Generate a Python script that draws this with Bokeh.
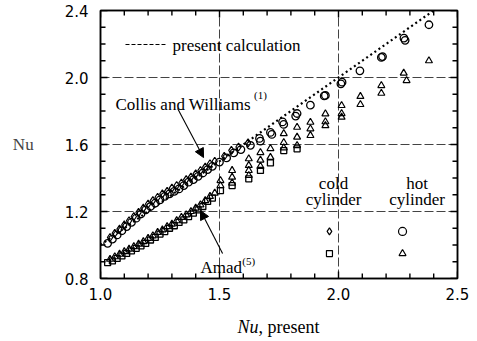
from bokeh.plotting import figure
from bokeh.layouts import column
from bokeh.models import (FixedTicker, PrintfTickFormatter, LinearAxis, Label, Arrow,
                          NormalHead, CustomJSTickFormatter, Range1d)
from bokeh.embed import file_html
from bokeh.resources import INLINE

# ---------------- data ----------------
x_ticks = [1.0, 1.5, 2.0, 2.5]
x_minor = [1.1, 1.2, 1.3, 1.4, 1.6, 1.7, 1.8, 1.9, 2.1, 2.2, 2.3, 2.4]
y_ticks = [0.8, 1.2, 1.6, 2.0, 2.4]
y_minor = [0.9, 1.0, 1.1, 1.3, 1.4, 1.5, 1.7, 1.8, 1.9, 2.1, 2.2, 2.3]

calc_x = [1.0, 2.4]
calc_y = [1.0, 2.4]

# Collis and Williams, hot cylinder (circles)
circle_x = [1.03, 1.05, 1.07, 1.09, 1.11, 1.13, 1.15, 1.17, 1.19, 1.21, 1.23, 1.25,
            1.27, 1.29, 1.31, 1.33, 1.35, 1.37, 1.39, 1.41, 1.43, 1.45, 1.47,
            1.50, 1.53, 1.56, 1.59, 1.63, 1.668, 1.672, 1.714, 1.72, 1.77, 1.765,
            1.826, 1.82, 1.882, 1.945, 1.94, 2.015, 2.01, 2.09, 2.18, 2.185, 2.28,
            2.275, 2.38]
circle_y = [1.01, 1.035, 1.06, 1.085, 1.11, 1.135, 1.16, 1.185, 1.21, 1.23, 1.25, 1.27,
            1.29, 1.305, 1.32, 1.335, 1.355, 1.375, 1.39, 1.41, 1.43, 1.45, 1.47,
            1.495, 1.52, 1.55, 1.57, 1.595, 1.636, 1.62, 1.672, 1.66, 1.72, 1.735,
            1.785, 1.77, 1.835, 1.893, 1.89, 1.972, 1.962, 2.04, 2.12, 2.125, 2.222,
            2.235, 2.315]

# Collis and Williams, cold cylinder (diamonds)
diamond_x = [1.04, 1.06, 1.08, 1.10, 1.12, 1.14, 1.16, 1.18, 1.20, 1.22, 1.24, 1.26,
             1.28, 1.30, 1.32, 1.34, 1.36, 1.38, 1.40, 1.42, 1.44, 1.46, 1.48,
             1.52, 1.55, 1.58, 1.62]
diamond_y = [1.045, 1.07, 1.095, 1.12, 1.145, 1.17, 1.195, 1.22, 1.245, 1.265, 1.285, 1.305,
             1.32, 1.34, 1.355, 1.37, 1.39, 1.405, 1.425, 1.445, 1.465, 1.485, 1.50,
             1.53, 1.565, 1.585, 1.61]

# Amad, cold cylinder (squares)
square_x = [1.03, 1.05, 1.07, 1.09, 1.11, 1.13, 1.15, 1.17, 1.19, 1.21, 1.23, 1.25,
            1.27, 1.29, 1.31, 1.33, 1.35, 1.37, 1.39, 1.41, 1.43, 1.45, 1.47,
            1.504, 1.553, 1.623, 1.672, 1.714, 1.77, 1.826]
square_y = [0.895, 0.905, 0.92, 0.935, 0.95, 0.965, 0.98, 0.995, 1.01, 1.03, 1.045, 1.065,
            1.08, 1.10, 1.115, 1.135, 1.15, 1.17, 1.19, 1.21, 1.23, 1.26, 1.28,
            1.325, 1.355, 1.395, 1.445, 1.49, 1.564, 1.574]

# Amad, hot cylinder (triangles)
triangle_x = [1.04, 1.06, 1.08, 1.10, 1.12, 1.14, 1.16, 1.18, 1.20, 1.22, 1.24, 1.26,
              1.28, 1.30, 1.32, 1.34, 1.36, 1.38, 1.40, 1.42, 1.44, 1.46, 1.48,
              1.504, 1.504, 1.553, 1.553, 1.553, 1.623, 1.623, 1.623, 1.623,
              1.672, 1.672, 1.672, 1.714, 1.714, 1.77, 1.77, 1.77, 1.826, 1.826, 1.826,
              1.882, 1.882, 1.882, 1.945, 1.945, 1.945, 2.013, 2.013, 2.013,
              2.092, 2.092, 2.18, 2.18, 2.286, 2.274, 2.38]
triangle_y = [0.915, 0.93, 0.945, 0.96, 0.975, 0.99, 1.005, 1.02, 1.04, 1.055, 1.075, 1.09,
              1.11, 1.125, 1.145, 1.165, 1.18, 1.20, 1.22, 1.24, 1.265, 1.29, 1.31,
              1.355, 1.385, 1.37, 1.405, 1.445, 1.415, 1.445, 1.475, 1.515,
              1.47, 1.507, 1.552, 1.523, 1.576, 1.58, 1.612, 1.665, 1.594, 1.644, 1.703,
              1.654, 1.694, 1.733, 1.713, 1.736, 1.783, 1.763, 1.785, 1.833,
              1.839, 1.887, 1.906, 1.952, 1.982, 2.026, 2.10]

X0, X1 = 1.0, 2.5
Y0, Y1 = 0.8, 2.4
FW, FH = 357, 268          # frame size in px
BOTTOM_H = 30              # strip that carries the x-axis title

# ---------------- main figure ----------------
p = figure(frame_width=FW, frame_height=FH, x_range=Range1d(X0, X1), y_range=Range1d(Y0, Y1),
           min_border_left=100, min_border_right=20, min_border_top=10,
           min_border_bottom=341 - 10 - FH - BOTTOM_H,
           output_backend="svg", toolbar_location=None, background_fill_color="white",
           border_fill_color="white")
p.outline_line_color = "black"
p.outline_line_width = 1.5

TICK_FONT = "DejaVu Sans"
SERIF = "Liberation Serif"

def style_axis(ax, ticks, labels=True):
    ax.ticker = FixedTicker(ticks=ticks)
    ax.major_tick_in = 0
    ax.major_tick_out = 0
    ax.minor_tick_in = 0
    ax.minor_tick_out = 0
    ax.axis_line_width = 1.5
    ax.axis_line_color = "black"
    if labels:
        ax.formatter = PrintfTickFormatter(format="%.1f")
        ax.major_label_text_font = TICK_FONT
        ax.major_label_text_font_size = "15px"
        ax.major_label_text_color = "black"
    else:
        ax.formatter = CustomJSTickFormatter(code="return ''")
        ax.major_label_standoff = 0

style_axis(p.xaxis[0], x_ticks)
p.xaxis[0].major_label_standoff = 9
style_axis(p.yaxis[0], y_ticks)
p.yaxis[0].major_label_standoff = 12
p.yaxis[0].axis_label = "Nu"
p.yaxis[0].axis_label_orientation = "horizontal"
p.yaxis[0].axis_label_text_font = SERIF
p.yaxis[0].axis_label_text_font_size = "17px"
p.yaxis[0].axis_label_text_font_style = "normal"
p.yaxis[0].axis_label_standoff = 28

top_ax = LinearAxis()
style_axis(top_ax, x_ticks, labels=False)
p.add_layout(top_ax, "above")
right_ax = LinearAxis()
style_axis(right_ax, y_ticks, labels=False)
p.add_layout(right_ax, "right")

for g, t in ((p.xgrid[0], x_ticks), (p.ygrid[0], y_ticks)):
    g.ticker = FixedTicker(ticks=t)
    g.grid_line_color = "#222222"
    g.grid_line_dash = "9 3"
    g.grid_line_width = 1.0
    g.grid_line_alpha = 0.85

# inward tick marks on all four sides
dx = (X1 - X0) / FW   # data units per pixel
dy = (Y1 - Y0) / FH
for ticks, L in ((x_ticks, 7), (x_minor, 5)):
    n = len(ticks)
    p.segment(x0=ticks, y0=[Y0] * n, x1=ticks, y1=[Y0 + L * dy] * n, line_color="black", line_width=1.4)
    p.segment(x0=ticks, y0=[Y1] * n, x1=ticks, y1=[Y1 - L * dy] * n, line_color="black", line_width=1.4)
for ticks, L in ((y_ticks, 7), (y_minor, 5)):
    n = len(ticks)
    p.segment(x0=[X0] * n, y0=ticks, x1=[X0 + L * dx] * n, y1=ticks, line_color="black", line_width=1.4)
    p.segment(x0=[X1] * n, y0=ticks, x1=[X1 - L * dx] * n, y1=ticks, line_color="black", line_width=1.4)

# present calculation (dotted)
p.line(calc_x, calc_y, line_color="black", line_width=2.2, line_dash="2 3")

# data markers
p.scatter(circle_x, circle_y, marker="circle", size=7.5, fill_color=None,
          line_color="black", line_width=1.3)
p.scatter(diamond_x, diamond_y, marker="diamond", size=8, fill_color=None,
          line_color="black", line_width=1.2)
p.scatter(square_x, square_y, marker="square", size=6, fill_color=None,
          line_color="black", line_width=1.3)
p.scatter(triangle_x, triangle_y, marker="triangle", size=7, fill_color=None,
          line_color="black", line_width=1.2)

# key markers
p.scatter([1.962], [1.081], marker="diamond", size=7, fill_color=None, line_color="black", line_width=1.2)
p.scatter([1.962], [0.949], marker="square", size=6, fill_color=None, line_color="black", line_width=1.2)
p.scatter([2.269], [1.081], marker="circle", size=8, fill_color=None, line_color="black", line_width=1.2)
p.scatter([2.269], [0.949], marker="triangle", size=7, fill_color=None, line_color="black", line_width=1.2)

# legend line for present calculation
p.line([1.105, 1.273], [2.197, 2.197], line_color="black", line_width=1.2, line_dash="4 2")

def lab(fig, x, y, text, size="17px", font=SERIF, align="left", baseline="alphabetic",
        style="normal"):
    fig.add_layout(Label(x=x, y=y, text=text, text_font=font, text_font_size=size,
                         text_align=align, text_baseline=baseline, text_color="black",
                         text_font_style=style))

lab(p, 1.3025, 2.19, "present calculation", baseline="middle")
lab(p, 1.063, 1.839, "Collis and Williams")
lab(p, 1.645, 1.893, "(1)", size="11px", baseline="middle")
lab(p, 1.42, 0.866, "Amad")
lab(p, 1.596, 0.905, "(5)", size="11px", baseline="middle")
lab(p, 1.979, 1.365, "cold", align="center")
lab(p, 1.979, 1.270, "cylinder", align="center")
lab(p, 2.33, 1.365, "hot", align="center")
lab(p, 2.33, 1.270, "cylinder", align="center")

# arrows
p.add_layout(Arrow(end=NormalHead(size=9, fill_color="black", line_color="black"),
                   x_start=1.324, y_start=1.815, x_end=1.433, y_end=1.522,
                   line_color="black", line_width=1.1))
p.add_layout(Arrow(end=NormalHead(size=9, fill_color="black", line_color="black"),
                   x_start=1.513, y_start=0.949, x_end=1.42, y_end=1.206,
                   line_color="black", line_width=1.1))

# ---------------- strip with the x-axis title (frame aligned with the main plot) ----------------
b = figure(frame_width=FW, frame_height=BOTTOM_H, x_range=Range1d(X0, X1),
           y_range=Range1d(0, BOTTOM_H), x_axis_type=None, y_axis_type=None,
           min_border_left=100, min_border_right=20, min_border_top=0, min_border_bottom=0,
           output_backend="svg", toolbar_location=None,
           background_fill_color="white", border_fill_color="white")
b.outline_line_color = None
b.xgrid.visible = False
b.ygrid.visible = False
lab(b, 1.576, 15, "Nu", size="18px", style="italic")
lab(b, 1.664, 15, ", present", size="18px")

layout = column(p, b, spacing=0)
open("out.html", "w").write(file_html(layout, INLINE))
